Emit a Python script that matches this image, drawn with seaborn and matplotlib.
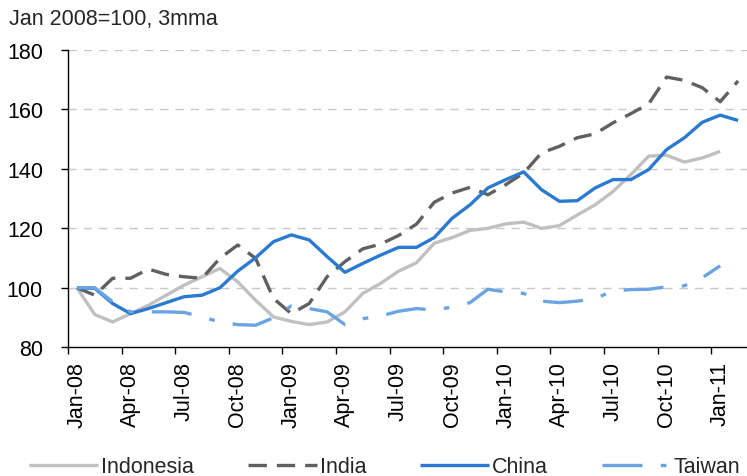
import numpy as np
import pandas as pd
import seaborn as sns
import matplotlib.pyplot as plt

# monthly, Jan-08 .. Feb-11
tick_labels = ["Jan-08", "Apr-08", "Jul-08", "Oct-08", "Jan-09", "Apr-09", "Jul-09",
               "Oct-09", "Jan-10", "Apr-10", "Jul-10", "Oct-10", "Jan-11"]

indonesia = [100, 91.0, 88.5, 91.3, 94.1, 97.5, 100.9, 103.7, 106.5, 102.0, 95.8, 90.2,
             88.7, 87.6, 88.5, 91.9, 98.1, 101.5, 105.6, 108.4, 115.0, 116.9, 119.3, 120.0,
             121.5, 122.1, 120.0, 120.9, 124.5, 127.9, 132.4, 138.1, 144.3, 144.6, 142.3,
             143.7, 145.9]
india = [100, 97.5, 103.2, 103.2, 106.3, 104.5, 103.7, 103.2, 109.9, 114.4, 109.9, 96.4,
         91.3, 94.7, 103.7, 108.8, 113.1, 114.7, 117.6, 121.4, 128.8, 131.9, 133.8, 131.3,
         134.7, 138.6, 145.4, 147.6, 150.5, 151.8, 155.5, 158.6, 161.9, 170.9, 169.8,
         167.3, 162.6, 169.6]
china = [100, 99.8, 94.7, 91.3, 93.0, 95.0, 97.0, 97.5, 100.0, 105.6, 110.1, 115.5,
         117.8, 116.1, 110.5, 105.2, 108.2, 111.0, 113.6, 113.6, 116.9, 123.4, 127.9, 133.6,
         136.4, 139.0, 133.0, 129.1, 129.3, 133.6, 136.4, 136.4, 139.8, 146.5, 150.5,
         155.7, 158.1, 156.3]
taiwan = [100, 100.0, 95.3, 91.9, 91.9, 91.9, 91.7, 90.2, 88.5, 87.6, 87.4, 89.9,
          93.9, 93.0, 91.9, 87.6, 89.6, 90.5, 92.1, 93.0, 92.5, 93.5, 95.0, 99.5,
          98.6, 98.1, 95.5, 95.0, 95.5, 96.4, 98.9, 99.4, 99.5, 100.3, 100.7, 103.4, 107.4]

sns.set_theme(style="white")
plt.rcParams["font.family"] = ["Liberation Sans", "DejaVu Sans"]
fs = 15.5

fig = plt.figure(figsize=(7.47, 4.77), dpi=100)
ax = fig.add_axes([0.091, 0.27, 0.909, 0.623])

series = [
    ("Indonesia", indonesia, "#c0c0c0", None),
    ("India", india, "#606060", (5.5, 3.0)),
    ("China", china, "#2a7ad2", None),
    ("Taiwan", taiwan, "#6aa4e2", (12.0, 5.5, 1.7, 5.5)),
]
for name, vals, col, dash in series:
    sns.lineplot(x=np.arange(len(vals)), y=vals, ax=ax, color=col, lw=2.4,
                 label=name, legend=False)
    ln = ax.lines[-1]
    ln.set_solid_capstyle("butt")
    ln.set_dash_capstyle("butt")
    if dash:
        ln.set_dashes(dash)

ax.set_xlim(-0.5, 37.5)
ax.set_ylim(80, 180)
ax.set_yticks(range(80, 181, 20))
ax.set_xticks(np.arange(-0.5, 37, 3))
ax.set_xticklabels([])
ax.set_xticks(np.arange(0, 37, 3), minor=True)
ax.set_xticklabels(tick_labels, minor=True, rotation=90)
ax.tick_params(axis="x", which="major", length=5, width=1, color="black", direction="out")
ax.tick_params(axis="x", which="minor", length=0, labelsize=fs, pad=10, colors="black")
ax.tick_params(axis="y", length=5, width=1, color="black", direction="out",
               labelsize=fs, pad=13, labelcolor="black")
ax.tick_params(bottom=True, left=True)
for y in range(100, 181, 20):
    ax.axhline(y, color="#c8c8c8", lw=1, ls=(0, (6, 5)), zorder=0)
sns.despine(ax=ax)
for s in ("left", "bottom"):
    ax.spines[s].set_color("black")
    ax.spines[s].set_linewidth(1)
ax.set_xlabel("")
ax.set_ylabel("")

fig.text(0.012, 0.982, "Jan 2008=100, 3mma", fontsize=fs, va="top", ha="left")

h, l = ax.get_legend_handles_labels()
fig.legend(h, l, loc="lower center", bbox_to_anchor=(0.515, -0.043), ncol=4,
           frameon=False, fontsize=fs, handlelength=3.2, handletextpad=0.15,
           columnspacing=2.5)

fig.savefig("out.png", dpi=100)
